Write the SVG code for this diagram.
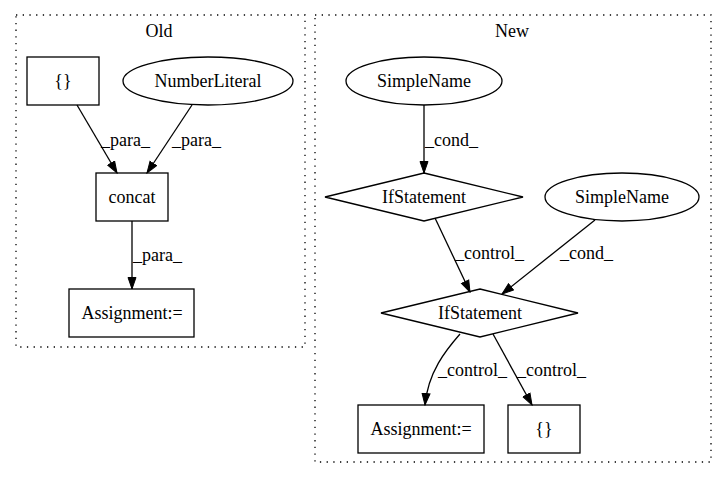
<svg xmlns="http://www.w3.org/2000/svg" width="727" height="480" viewBox="0 0 727 480">
<style>
text{font-family:"Liberation Serif","Times New Roman",serif;font-size:18px;fill:#000}
.c{text-anchor:middle}
.cl{fill:none;stroke:#000;stroke-width:1.3;stroke-dasharray:1.3,5.4}
.n{fill:none;stroke:#000;stroke-width:1.3}
.e{fill:none;stroke:#000;stroke-width:1.3;marker-end:url(#ah)}
</style>
<defs>
<marker id="ah" markerUnits="userSpaceOnUse" markerWidth="13" markerHeight="10" refX="12" refY="4.5" orient="auto" viewBox="0 0 13 9">
<path d="M0.5,0.5 L12,4.5 L0.5,8.5 z" fill="#000" stroke="#000" stroke-width="1"/>
</marker>
</defs>
<rect width="727" height="480" fill="#fff"/>
<g id="cluster_old">
<rect class="cl" x="16" y="15" width="289" height="332"/>
<text class="c" x="159" y="37">Old</text>
</g>
<g id="cluster_new">
<rect class="cl" x="315" y="15" width="396" height="447"/>
<text class="c" x="512" y="37">New</text>
</g>
<g id="edges">
<path class="e" d="M77,105 L117,173"/>
<text x="101" y="146">_para_</text>
<path class="e" d="M192,105 L147,173"/>
<text x="172" y="146">_para_</text>
<path class="e" d="M132,221 L132,289"/>
<text x="133" y="261">_para_</text>
<path class="e" d="M424,105 L424,173"/>
<text x="425" y="146">_cond_</text>
<path class="e" d="M435,218 L470,292"/>
<text x="455" y="259">_control_</text>
<path class="e" d="M595,220 L502,294"/>
<text x="560" y="259">_cond_</text>
<path class="e" d="M460,334 C446,350 428,372 425,405"/>
<text x="438" y="376">_control_</text>
<path class="e" d="M493,334 L532,405"/>
<text x="517" y="376">_control_</text>
</g>
<g id="old_braces">
<rect class="n" x="27" y="57" width="72" height="48"/>
<text class="c" x="63" y="87">{}</text>
</g>
<g id="old_numberliteral">
<ellipse class="n" cx="208" cy="81" rx="85" ry="24"/>
<text class="c" x="208" y="87">NumberLiteral</text>
</g>
<g id="old_concat">
<rect class="n" x="96" y="173" width="72" height="48"/>
<text class="c" x="132" y="203">concat</text>
</g>
<g id="old_assignment">
<rect class="n" x="69" y="289" width="125" height="48"/>
<text class="c" x="132" y="319">Assignment:=</text>
</g>
<g id="new_simplename1">
<ellipse class="n" cx="424" cy="81" rx="78" ry="24"/>
<text class="c" x="424" y="87">SimpleName</text>
</g>
<g id="new_if1">
<polygon class="n" points="424,173 523,197 424,221 325,197"/>
<text class="c" x="424" y="203">IfStatement</text>
</g>
<g id="new_simplename2">
<ellipse class="n" cx="622" cy="197" rx="77" ry="24"/>
<text class="c" x="622" y="203">SimpleName</text>
</g>
<g id="new_if2">
<polygon class="n" points="480,289 578,313 480,337 381,313"/>
<text class="c" x="480" y="319">IfStatement</text>
</g>
<g id="new_assignment">
<rect class="n" x="358" y="405" width="126" height="48"/>
<text class="c" x="421" y="435">Assignment:=</text>
</g>
<g id="new_braces">
<rect class="n" x="508" y="405" width="72" height="48"/>
<text class="c" x="544" y="435">{}</text>
</g>
</svg>
